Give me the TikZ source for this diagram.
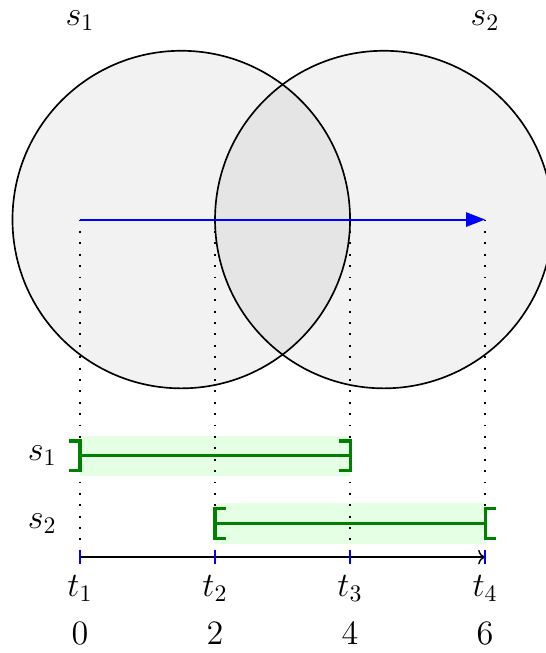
\documentclass[tikz,border=0pt]{standalone}
\usetikzlibrary{arrows.meta}
\begin{document}
\begin{tikzpicture}[
  lab/.style={font=\Large, inner sep=0pt},
  setbar/.style={line width=1.3pt, green!50!black},
  band/.style={fill=green!10},
  guide/.style={line width=0.8pt, loosely dotted, black},
  tickmark/.style={blue, line width=0.85pt},
  disk/.style={fill=gray!10},
  rim/.style={black, line width=0.7pt},
  closebr/.pic={\draw[setbar] (-0.16,0.22) -- (0,0.22) -- (0,-0.22) -- (-0.16,-0.22);},
  openbr/.pic={\draw[setbar] (0.16,0.22) -- (0,0.22) -- (0,-0.22) -- (0.16,-0.22);},
]
\useasboundingbox (-1.185,-1.42) rectangle (6.889,8.252);
\coordinate (c1) at (1.5,5);
\coordinate (c2) at (4.5,5);
% disks
\fill[disk] (c1) circle (2.5);
\fill[disk] (c2) circle (2.5);
\begin{scope}
  \clip (c1) circle (2.5);
  \fill[gray!20] (c2) circle (2.5);
\end{scope}
\draw[rim] (c1) circle (2.5);
\draw[rim] (c2) circle (2.5);
% coordinates
\foreach \i/\x in {1/0,2/2,3/4,4/6}{
  \coordinate (a\i) at (\x,5);
  \coordinate (b\i) at (\x,0);
  \coordinate (lo\i) at (\x,-0.1);
  \coordinate (hi\i) at (\x,0.1);
}
\coordinate (s1l) at (0,1.5);
\coordinate (s1r) at (4,1.5);
\coordinate (s2l) at (2,0.5);
\coordinate (s2r) at (6,0.5);
% bands
\fill[band] (0,1.2) rectangle (4,1.8);
\fill[band] (2,0.2) rectangle (6,0.8);
% guides
\foreach \i in {1,2,3,4}{ \draw[guide] (a\i) -- (b\i); }
% interval bars
\draw[setbar] (s1l) -- (s1r);
\draw[setbar] (s2l) -- (s2r);
\pic at (s1l) {closebr};
\pic at (s1r) {closebr};
\pic at (s2l) {openbr};
\pic at (s2r) {openbr};
% trajectory arrow
\draw[blue, line width=0.8pt, -{Triangle[length=8pt,width=6pt]}] (a1) -- (a4);
% axis
\draw[line width=0.6pt, ->] (b1) -- (b4);
\foreach \i in {1,2,3,4}{ \draw[tickmark] (lo\i) -- (hi\i); }
% labels
\node[lab] (top1) at (0,7.94) {$s_1$};
\node[lab] (top2) at (6,7.94) {$s_2$};
\node[lab] (left1) at (-0.56,1.5) {$s_1$};
\node[lab] (left2) at (-0.56,0.5) {$s_2$};
\node[lab] (t1) at (0,-0.46) {$t_1$};
\node[lab] (t2) at (2,-0.46) {$t_2$};
\node[lab] (t3) at (4,-0.46) {$t_3$};
\node[lab] (t4) at (6,-0.46) {$t_4$};
\node[lab] (n0) at (0,-1.13) {$0$};
\node[lab] (n2) at (2,-1.13) {$2$};
\node[lab] (n4) at (4,-1.13) {$4$};
\node[lab] (n6) at (6,-1.13) {$6$};
\end{tikzpicture}
\end{document}
